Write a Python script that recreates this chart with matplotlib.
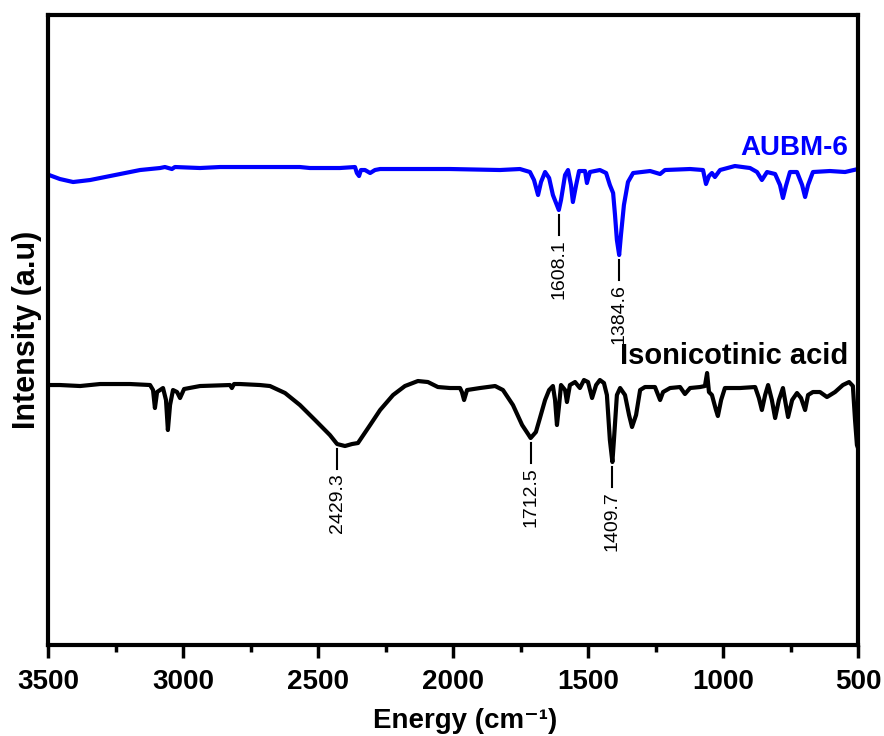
import numpy as np
import matplotlib
matplotlib.use("Agg")
import matplotlib.pyplot as plt
from matplotlib.ticker import MultipleLocator

aubm_wn = [3496, 3456, 3407, 3344, 3270, 3159, 3085, 3067, 3041, 3030, 2937, 2863,
           2789, 2567, 2530, 2419, 2363, 2356, 2348, 2341, 2326, 2307, 2289, 2270,
           2011, 1826, 1752, 1715, 1700, 1685, 1674, 1659, 1644, 1630, 1608.1, 1600,
           1585, 1574, 1563, 1556, 1544, 1533, 1511, 1504, 1493, 1456, 1433, 1419,
           1407, 1400, 1393, 1384.6, 1378, 1367, 1352, 1333, 1270, 1233, 1215, 1122,
           1074, 1063, 1052, 1041, 1030, 1011, 956, 900, 874, 856, 837, 807, 789,
           778, 767, 752, 726, 707, 696, 685, 667, 604, 548, 500]
aubm_int = [470, 466, 463, 465, 469, 475, 477, 478, 476, 478, 477, 478,
            478, 478, 477, 477, 478, 472, 469, 475, 475, 472, 475, 476,
            476, 475, 476, 473, 465, 450, 463, 473, 467, 450, 435, 445,
            470, 475, 460, 443, 460, 474, 474, 462, 473, 475, 472, 460,
            452, 430, 405, 390, 410, 440, 463, 472, 474, 471, 475, 476,
            475, 461, 469, 472, 468, 475, 479, 477, 473, 465, 473, 471, 460,
            447, 459, 473, 473, 460, 448, 460, 473, 474, 473, 476]

# Isonicotinic acid spectrum
iso_wn = [3496, 3456, 3381, 3307, 3196, 3122, 3111, 3104, 3096, 3074, 3063, 3056,
          3048, 3037, 3022, 3011, 2996, 2937, 2826, 2819, 2811, 2789, 2715, 2678,
          2622, 2567, 2511, 2456, 2429.3, 2400, 2374, 2352, 2337, 2307, 2270, 2222,
          2178, 2130, 2093, 2056, 2011, 1974, 1967, 1959, 1948, 1900, 1844, 1815,
          1778, 1744, 1722, 1712.5, 1693, 1678, 1659, 1644, 1630, 1622, 1615, 1607,
          1600, 1585, 1578, 1567, 1548, 1530, 1515, 1500, 1485, 1470, 1456, 1441,
          1430, 1419, 1409.7, 1404, 1393, 1381, 1363, 1348, 1337, 1322, 1307, 1289,
          1252, 1233, 1222, 1196, 1159, 1141, 1122, 1085, 1067, 1059, 1052, 1041,
          1026, 1019, 1007, 993, 937, 881, 867, 856, 844, 833, 819, 807, 793, 778,
          767, 759, 744, 726, 711, 696, 685, 667, 641, 615, 585, 556, 533, 519,
          511, 504, 500]
iso_int = [260, 260, 259, 261, 261, 260, 255, 237, 253, 257, 245, 215,
           240, 255, 253, 247, 256, 259, 260, 257, 261, 261, 260, 259,
           252, 240, 225, 210, 201, 199, 201, 202, 208, 220, 235, 250,
           259, 264, 263, 258, 257, 257, 253, 245, 255, 257, 259, 255,
           240, 220, 211, 207, 213, 227, 245, 255, 259, 245, 220, 240,
           260, 255, 243, 260, 263, 257, 265, 263, 247, 260, 265, 262,
           250, 205, 183, 205, 250, 257, 250, 230, 218, 230, 255, 258,
           258, 245, 253, 257, 258, 251, 257, 258, 259, 272, 253, 250,
           235, 229, 245, 257, 257, 258, 247, 235, 250, 260, 245, 227, 245, 257,
           240, 228, 245, 252, 247, 235, 250, 253, 253, 248, 253, 260, 263, 259,
           225, 200, 197]

aubm_peaks = ["1608.1", "1384.6"]
iso_peaks = ["2429.3", "1712.5", "1409.7"]

plt.rcParams['font.family'] = ['Liberation Sans', 'DejaVu Sans']

fig = plt.figure(figsize=(8.84, 7.36), dpi=100)
ax = fig.add_axes([0.0543, 0.1236, 0.9163, 0.856])

ax.plot(aubm_wn, aubm_int, color='#0000ff', lw=3)
ax.plot(iso_wn, iso_int, color='black', lw=3)

# peak markers: short vertical tick below the dip and rotated label
for wn_list, val_list, peaks in [(aubm_wn, aubm_int, aubm_peaks),
                                 (iso_wn, iso_int, iso_peaks)]:
    order = np.argsort(wn_list)
    for p in peaks:
        w = float(p)
        y = np.interp(w, np.array(wn_list)[order], np.array(val_list)[order])
        ax.plot([w, w], [y - 5, y - 25], color='black', lw=1.5)
        ax.text(w, y - 29, p, rotation=90, ha='center', va='top', fontsize=14)

ax.text(535, 497, "AUBM-6", color='#0000ff', fontsize=20, fontweight='bold',
        ha='right', va='center')
ax.text(535, 289, "Isonicotinic acid", color='black', fontsize=21,
        fontweight='bold', ha='right', va='center')

ax.set_xlim(3500, 500)
ax.set_ylim(0, 630)
ax.xaxis.set_major_locator(MultipleLocator(500))
ax.xaxis.set_minor_locator(MultipleLocator(250))
ax.tick_params(axis='x', which='major', direction='out', length=9, width=2.5,
               labelsize=20, pad=8)
ax.tick_params(axis='x', which='minor', direction='out', length=5, width=2.5)
for lab in ax.get_xticklabels():
    lab.set_fontweight('bold')
ax.set_yticks([])
for s in ax.spines.values():
    s.set_linewidth(3)

ax.set_xlabel("Energy (cm\u207b\u00b9)", fontsize=20, fontweight='bold')
ax.xaxis.set_label_coords(0.515, -0.1317)
ax.xaxis.label.set_verticalalignment('baseline')
ax.set_ylabel("Intensity (a.u)", fontsize=22, fontweight='bold')
ax.yaxis.set_label_coords(-0.026, 0.5)
ax.yaxis.label.set_verticalalignment('center')

fig.savefig("out.png", dpi=100)
